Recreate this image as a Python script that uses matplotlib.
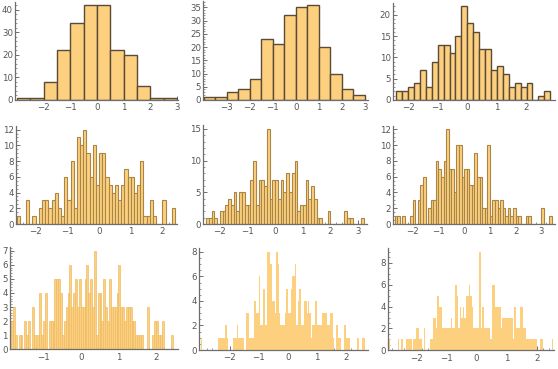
import numpy as np
import matplotlib
matplotlib.use("Agg")
import matplotlib.pyplot as plt
from matplotlib.ticker import MultipleLocator, FixedLocator

# ---------------- data (bin start, bin width, counts) ----------------
p1_start, p1_width = -3.0, 0.5
p1_counts = [1, 1, 8, 22, 34, 42, 42, 22, 20, 6, 1, 1]
p1_xticks = [-2, -1, 0, 1, 2, 3]

p2_start, p2_width = -4.0, 0.5
p2_counts = [1, 1, 3, 4, 8, 23, 21, 32, 35, 36, 20, 10, 4, 2]
p2_xticks = [-3, -2, -1, 0, 1, 2, 3]

p3_start, p3_width = -2.4, 0.2
p3_counts = [2, 2, 3, 4, 7, 3, 9, 13, 13, 11, 15, 22, 18, 16, 12, 12, 7, 8, 6, 3,
             4, 3, 4, 0, 1, 2]
p3_xticks = [-2, -1, 0, 1, 2]

p4_start, p4_width = -2.6, 0.1
p4_counts = [1, 0, 0, 3, 0, 1, 0, 2, 3, 3, 2, 3, 4, 2, 1, 6, 3, 8, 2, 11,
             10, 12, 9, 6, 10, 5, 9, 9, 6, 5, 4, 5, 3, 5, 7, 6, 6, 4, 5, 8,
             1, 1, 3, 1, 0, 0, 3, 0, 0, 2]
p4_xticks = [-2, -1, 0, 1, 2]

p5_start, p5_width = -2.5, 0.1
p5_counts = [1, 1, 2, 1, 0, 2, 2, 3, 4, 3, 5, 2, 5, 5, 3, 3, 7, 10, 3, 7,
             7, 6, 15, 4, 7, 7, 4, 7, 5, 8, 5, 8, 10, 2, 3, 3, 7, 4, 6, 4,
             1, 1, 0, 0, 2, 0, 0, 0, 0, 0, 2, 1, 1, 0, 0, 0, 1]
p5_xticks = [-2, -1, 0, 1, 2, 3]

p6_start, p6_width = -2.7, 0.1
p6_counts = [1, 1, 0, 1, 0, 0, 1, 3, 0, 3, 5, 6, 0, 2, 3, 3, 8, 7, 6, 8,
             12, 7, 7, 4, 10, 10, 6, 7, 7, 5, 5, 9, 6, 6, 2, 2, 10, 1, 3, 3,
             2, 3, 2, 1, 2, 1, 2, 1, 1, 0, 0, 1, 1, 0, 0, 0, 0, 2, 0, 0, 1]
p6_xticks = [-2, -1, 0, 1, 2, 3]

p7_start, p7_width = -1.85, 0.05
p7_counts = [2, 3, 1, 0, 1, 1, 0, 2, 1, 2, 0, 3, 1, 0, 1, 4, 1, 2, 4, 0,
             2, 2, 2, 5, 5, 5, 4, 1, 2, 3, 4, 6, 3, 4, 5, 3, 5, 3, 3, 5,
             6, 4, 5, 3, 7, 1, 4, 4, 2, 5, 3, 2, 5, 3, 3, 3, 4, 6, 3, 3,
             2, 3, 3, 3, 2, 2, 1, 1, 1, 1, 0, 0, 3, 0, 0, 1, 2, 2, 1, 1,
             2, 0, 0, 0, 0, 1]
p7_xticks = [-1, 0, 1, 2]

p8_start, p8_width = -3.0, 0.05
p8_counts = [1, 0, 0, 0, 0, 0, 0, 0, 0, 0, 0, 0, 1, 1, 1, 1, 1, 2, 1, 0,
             0, 0, 1, 1, 1, 2, 1, 1, 1, 1, 0, 3, 3, 1, 1, 1, 1, 4, 3, 3,
             6, 2, 2, 5, 2, 2, 8, 8, 7, 4, 4, 3, 8, 7, 3, 2, 2, 2, 3, 5,
             3, 3, 5, 6, 6, 7, 2, 4, 5, 2, 2, 4, 4, 3, 4, 3, 1, 2, 2, 4,
             2, 2, 2, 2, 3, 3, 3, 2, 2, 3, 3, 1, 0, 2, 2, 1, 1, 0, 0, 2,
             1, 1, 1, 0, 0, 0, 0, 0, 1, 0, 0, 1, 1]
p8_xticks = [-2, -1, 0, 1, 2]

p9_start, p9_width = -2.9, 0.05
p9_counts = [1, 0, 0, 0, 0, 0, 1, 0, 1, 0, 0, 1, 1, 1, 1, 0, 1, 1, 2, 2,
             1, 1, 0, 2, 0, 0, 0, 1, 1, 3, 3, 2, 5, 4, 4, 2, 2, 2, 2, 2,
             2, 3, 2, 2, 6, 5, 2, 4, 3, 4, 3, 5, 5, 6, 5, 4, 2, 2, 2, 2,
             9, 2, 4, 2, 2, 2, 2, 1, 6, 6, 4, 4, 4, 4, 2, 3, 3, 3, 3, 3,
             3, 3, 1, 4, 2, 2, 2, 4, 4, 2, 2, 1, 1, 1, 1, 1, 1, 1, 0, 0,
             1, 1, 0, 0, 0, 0, 0, 0, 1]
p9_xticks = [-2, -1, 0, 1, 2]

# ---------------- styling / layout ----------------
W, H = 558, 369
FACE = "#fdd07f"
AXC = "#6e6e6e"
LBC = "#555555"

panels = [
    # start, width, counts, xticks, rect (left, top, right, bottom) px, xlim, y major, y minor, edge, lw
    (p1_start, p1_width, p1_counts, p1_xticks, (15, 1.7, 178, 100), (-3.08, 3.04), 10, 2, "#5b4a36", 1.0),
    (p2_start, p2_width, p2_counts, p2_xticks, (203.3, 1, 367.7, 100), (-4.03, 3.12), 5, 1, "#5b4a36", 1.0),
    (p3_start, p3_width, p3_counts, p3_xticks, (392.7, 2.7, 555.3, 100), (-2.52, 2.97), 5, 1, "#5b4a36", 1.0),
    (p4_start, p4_width, p4_counts, p4_xticks, (15.7, 125.8, 176.7, 224), (-2.63, 2.45), 2, 0.5, "#a98546", 0.8),
    (p5_start, p5_width, p5_counts, p5_xticks, (203.3, 125, 367, 224), (-2.6, 3.32), 5, 1, "#a98546", 0.8),
    (p6_start, p6_width, p6_counts, p6_xticks, (392.7, 125.7, 554.7, 224), (-2.78, 3.52), 2, 0.5, "#a98546", 0.8),
    (p7_start, p7_width, p7_counts, p7_xticks, (10, 246.7, 178.3, 349.3), (-1.88, 2.59), 1, 0.2, "#eebc66", 0.5),
    (p8_start, p8_width, p8_counts, p8_xticks, (198.7, 248, 367.7, 350), (-3.07, 2.76), 2, 0.5, None, 0),
    (p9_start, p9_width, p9_counts, p9_xticks, (388, 248, 553.7, 350.3), (-2.93, 2.56), 2, 0.5, None, 0),
]

fig = plt.figure(figsize=(W / 100, H / 100), dpi=100)
fig.patch.set_facecolor("white")

for (start, width, counts, xticks, rect, xlim, ymaj, ymin, edge, lw) in panels:
    l, t, r, b = rect
    ax = fig.add_axes([l / W, 1 - b / H, (r - l) / W, (b - t) / H])
    counts = np.asarray(counts, dtype=float)
    edges = start + width * np.arange(len(counts) + 1)
    if lw > 0:
        ax.bar(edges[:-1], counts, width=width, align="edge", color=FACE,
               edgecolor=edge, linewidth=lw, zorder=2)
    else:
        ax.bar(edges[:-1], counts, width=width * 1.02, align="edge", color=FACE,
               linewidth=0, antialiased=False, zorder=2)
    ax.set_xlim(*xlim)
    ax.set_ylim(0, counts.max() * 1.04)
    for s in ("top", "right"):
        ax.spines[s].set_visible(False)
    for s in ("left", "bottom"):
        ax.spines[s].set_color(AXC)
        ax.spines[s].set_linewidth(0.9)
        ax.spines[s].set_zorder(3)
    ax.xaxis.set_major_locator(FixedLocator(xticks))
    ax.xaxis.set_minor_locator(MultipleLocator(0.2))
    ax.yaxis.set_major_locator(MultipleLocator(ymaj))
    ax.yaxis.set_minor_locator(MultipleLocator(ymin))
    ax.tick_params(which="major", direction="in", length=3.0, width=0.7,
                   color=AXC, labelsize=6.2, labelcolor=LBC)
    ax.tick_params(which="minor", direction="in", length=1.6, width=0.5, color=AXC)
    ax.tick_params(axis="x", pad=2.5)
    ax.tick_params(axis="y", pad=1.5)
    ax.set_facecolor("none")

fig.savefig("out.png", dpi=100, facecolor="white")
